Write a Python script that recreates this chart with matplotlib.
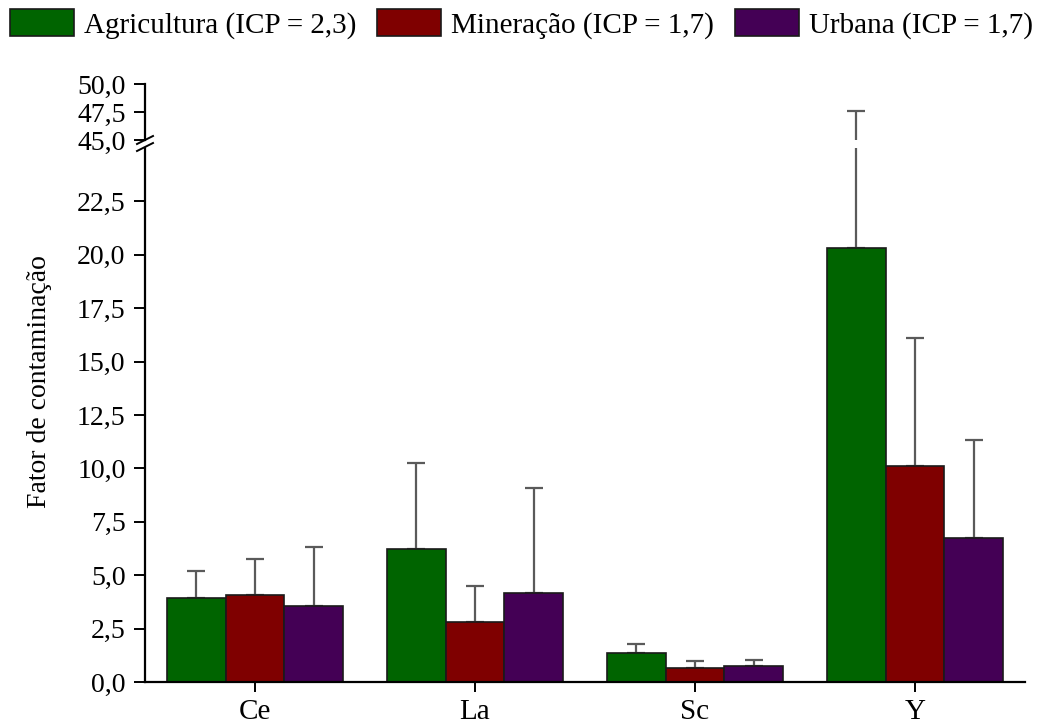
import numpy as np
import matplotlib
matplotlib.use("Agg")
import matplotlib.pyplot as plt
from matplotlib.patches import Patch
from matplotlib.lines import Line2D

plt.rcParams['font.family'] = ['Liberation Serif', 'DejaVu Serif']

elements = ["Ce", "La", "Sc", "Y"]
series = ["Agricultura (ICP = 2,3)", "Mineração (ICP = 1,7)", "Urbana (ICP = 1,7)"]
colors = ["#006400", "#7f0000", "#440055"]

# mean contamination factor per land use
agri = [3.95, 6.25, 1.35, 20.3]
mine = [4.05, 2.80, 0.65, 10.1]
urban = [3.55, 4.15, 0.75, 6.75]
# upper end of the error bars
agri_top = [5.2, 10.25, 1.8, 47.6]
mine_top = [5.75, 4.5, 0.98, 16.1]
urban_top = [6.3, 9.1, 1.03, 11.35]

means = [agri, mine, urban]
tops = [agri_top, mine_top, urban_top]

fig = plt.figure(figsize=(10.43, 7.27), dpi=100)
L, R = 145 / 1043, 1025 / 1043
ax = fig.add_axes([L, 45 / 727, R - L, 534 / 727])
axt = fig.add_axes([L, 587 / 727, R - L, 56 / 727])

x = np.arange(len(elements))
w = 0.8 / 3
for a in (ax, axt):
    for i in range(3):
        m = np.array(means[i])
        up = np.array(tops[i]) - m
        a.bar(x + (i - 1) * w, m, w, color=colors[i], edgecolor="#1a1a1a", linewidth=1.2, zorder=2)
        a.errorbar(x + (i - 1) * w, m, yerr=[np.zeros_like(up), up], fmt="none",
                   ecolor="#5a5a5a", elinewidth=1.6, capsize=6.5, capthick=1.6, zorder=1)
    a.set_xlim(-0.5, 3.5)
    for s in ("top", "right"):
        a.spines[s].set_visible(False)
    a.spines["left"].set_linewidth(1.6)
    a.tick_params(axis="y", direction="out", length=8, width=1.4, labelsize=20, pad=6)

ax.set_ylim(0, 25)
ax.set_yticks(np.arange(0, 25, 2.5))
ax.set_yticklabels([f"{v:.1f}".replace(".", ",") for v in np.arange(0, 25, 2.5)])
ax.spines["bottom"].set_linewidth(1.6)
ax.set_xticks(x)
ax.set_xticklabels(elements, fontsize=21)
ax.tick_params(axis="x", direction="out", length=7, width=1.4, pad=5)

axt.set_ylim(45, 50)
axt.set_yticks([45, 47.5, 50])
axt.set_yticklabels(["45,0", "47,5", "50,0"])
axt.spines["bottom"].set_visible(False)
axt.set_xticks([])

# y label centred on the whole broken axis
fig.text(40 / 1043, 1 - 382 / 727, "Fator de contaminação", rotation=90,
         ha="center", va="center", fontsize=20)

# break marks on the y axis
for yb in (140, 147):
    fig.add_artist(Line2D([L - 8 / 1043, L + 8 / 1043], [1 - (yb + 4) / 727, 1 - (yb - 4) / 727],
                          color="black", linewidth=1.4))

handles = [Patch(facecolor=c, edgecolor="#1a1a1a", linewidth=1.2) for c in colors]
fig.legend(handles, series, loc="center", bbox_to_anchor=(0.5, 1 - 24 / 727), ncol=3,
           frameon=False, fontsize=21, handlelength=2.2, handleheight=1.05,
           handletextpad=0.35, columnspacing=0.7, borderaxespad=0)

fig.savefig("out.png", dpi=100)
